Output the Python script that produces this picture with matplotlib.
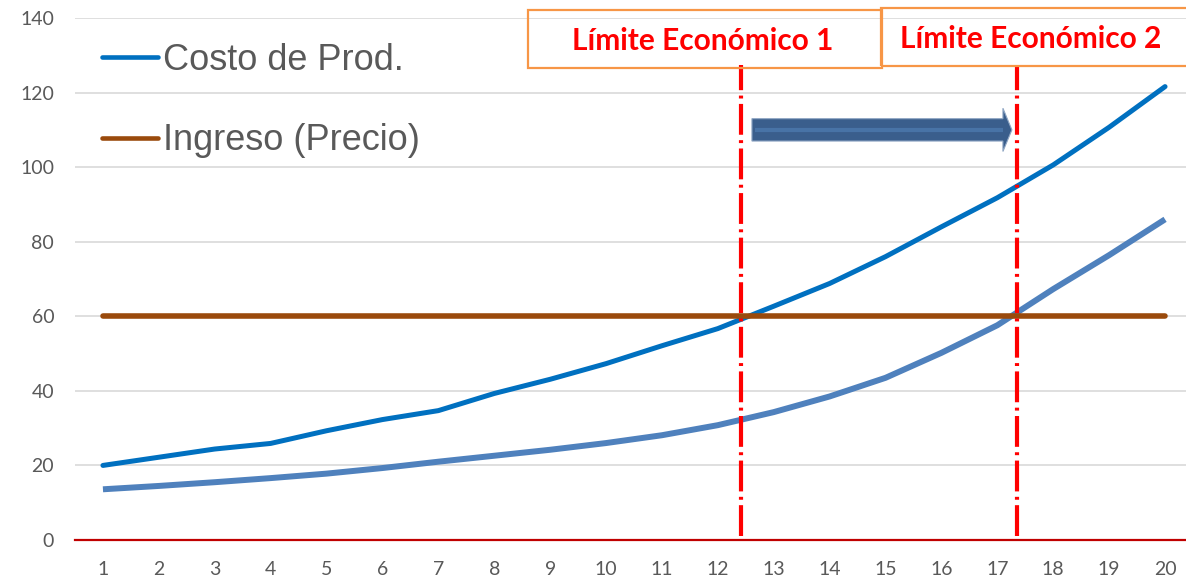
"""Límite económico: costo de producción vs ingreso."""

import matplotlib

matplotlib.use("Agg")
import matplotlib.pyplot as plt
from matplotlib.lines import Line2D
from matplotlib.patches import Polygon, Rectangle

# --- data -----------------------------------------------------------------
periodos = list(range(1, 21))
costo_prod = [20.0, 22.2, 24.4, 25.9, 29.3, 32.3, 34.7, 39.3, 43.1, 47.3,
              52.1, 56.7, 62.7, 68.8, 76.0, 84.0, 91.8, 100.6, 110.7, 121.6]
costo_reducido = [13.6, 14.5, 15.5, 16.6, 17.8, 19.3, 21.0, 22.6, 24.2, 26.0,
                  28.1, 30.8, 34.3, 38.5, 43.5, 50.2, 57.6, 67.3, 76.4, 86.0]
ingreso = [60] * 20
limites = [12.42, 17.36]
limite_labels = ["Límite Económico 1", "Límite Económico 2"]
y_ticks = [0, 20, 40, 60, 80, 100, 120, 140]

# --- colours ----------------------------------------------------------------
c_costo = "#0070C0"
c_reducido = "#4F81BD"
c_ingreso = "#9A4A0C"
c_text = "#595959"
c_grid = "#D9D9D9"

fig = plt.figure(figsize=(11.86, 5.83), dpi=100)
ax = fig.add_axes([75 / 1186, 43 / 583, 1118 / 1186, 522 / 583])

ax.set_xlim(0.5, 20.5)
ax.set_ylim(0, 140)
ax.set_yticks(y_ticks)
ax.set_xticks(periodos)
ax.grid(axis="y", color=c_grid, lw=1.2, zorder=0)
ax.set_axisbelow(True)
for side in ["top", "right", "left"]:
    ax.spines[side].set_visible(False)
ax.spines["bottom"].set_color("#C00000")
ax.spines["bottom"].set_linewidth(1.6)
ax.tick_params(length=0, labelsize=14, labelcolor=c_text)
ax.tick_params(axis="y", pad=15)
ax.tick_params(axis="x", pad=15)
for lab in ax.get_xticklabels() + ax.get_yticklabels():
    lab.set_family("Lato")

ax.plot(periodos, costo_reducido, color=c_reducido, lw=4.3,
        solid_capstyle="butt", solid_joinstyle="round", zorder=3)
ax.plot(periodos, costo_prod, color=c_costo, lw=3.6,
        solid_capstyle="round", solid_joinstyle="round", zorder=4)
ax.plot(periodos, ingreso, color=c_ingreso, lw=4.0,
        solid_capstyle="round", zorder=4)

# límites económicos (líneas verticales punto-raya)
for x in limites:
    ax.plot([x, x], [1.2, 127.5], color="#FF0000", lw=3.0,
            dashes=(7.4, 1.3, 0.7, 1.3), solid_capstyle="butt",
            dash_capstyle="butt", zorder=6, clip_on=False)

# cajas de título
cajas = [(8.60, 126.5, 14.94, 142.1), (14.92, 127.1, 20.6, 142.8)]
for (x0, y0, x1, y1), texto in zip(cajas, limite_labels):
    ax.add_patch(Rectangle((x0, y0), x1 - x0, y1 - y0, fill=False,
                           edgecolor="#F79646", lw=1.6, clip_on=False,
                           zorder=7))
ax.text(11.72, 133.9, limite_labels[0], ha="center",
        va="center", color="#FF0000", fontsize=21.5, fontweight="bold",
        family="Lato", zorder=8)
ax.text(17.60, 134.4, limite_labels[1], ha="center", va="center",
        color="#FF0000", fontsize=21.5, fontweight="bold", family="Lato",
        zorder=8)

# flecha entre límites
x_ini, x_base, x_tip = limites[0] + 0.19, limites[1] - 0.26, limites[1] - 0.10
yc, hs, hh = 110.0, 3.0, 5.8
flecha = Polygon([(x_ini, yc - hs), (x_base, yc - hs), (x_base, yc - hh),
                  (x_tip, yc), (x_base, yc + hh), (x_base, yc + hs),
                  (x_ini, yc + hs)], closed=True, facecolor="#3A5E8C",
                 edgecolor="#8FA6C4", lw=0.8, zorder=5)
ax.add_patch(flecha)
ax.plot([x_ini + 0.05, x_base], [yc, yc], color="#4873A6", lw=3.0,
        solid_capstyle="butt", zorder=5)

# leyenda
handles = [
    Line2D([], [], color=c_costo, lw=3.3, solid_capstyle="round"),
    Line2D([], [], color=c_ingreso, lw=3.3, solid_capstyle="round"),
]
ax.legend(handles, ["Costo de Prod.", "Ingreso (Precio)"],
          loc="upper left", bbox_to_anchor=(27 / 1118, 0.952),
          frameon=False, handlelength=1.55, handletextpad=0.15,
          labelspacing=1.25, borderaxespad=0, borderpad=0,
          prop={"family": "Liberation Sans", "size": 26},
          labelcolor=c_text)

fig.savefig("out.png", dpi=100)
